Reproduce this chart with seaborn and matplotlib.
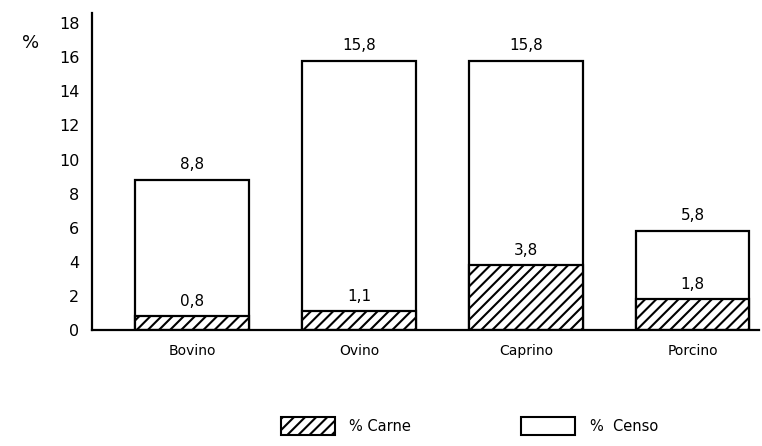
import matplotlib
matplotlib.use("Agg")
import matplotlib.pyplot as plt
import seaborn as sns
import pandas as pd
from matplotlib.patches import Patch

categorias = ["Bovino", "Ovino", "Caprino", "Porcino"]
censo = [8.8, 15.8, 15.8, 5.8]
carne = [0.8, 1.1, 3.8, 1.8]
yticks = [0, 2, 4, 6, 8, 10, 12, 14, 16, 18]

sns.set_theme(style="white")
plt.rcParams['font.family'] = ['DejaVu Sans']
plt.rcParams['hatch.linewidth'] = 1.5

df = pd.DataFrame({"cat": categorias, "censo": censo, "carne": carne})

fig = plt.figure(figsize=(7.62, 4.46), dpi=100)
ax = fig.add_axes([0.1207, 0.26, 0.876, 0.711])

sns.barplot(data=df, x="cat", y="censo", color="white", edgecolor="black",
            linewidth=1.6, width=0.68, ax=ax, saturation=1)
sns.barplot(data=df, x="cat", y="carne", color="white", edgecolor="black",
            linewidth=1.6, width=0.68, ax=ax, saturation=1, hatch="///")

for i, (c, m) in enumerate(zip(censo, carne)):
    ax.text(i, c + 0.45, f"{c:.1f}".replace(".", ","), ha="center", va="bottom",
            fontsize=11, color="black")
    ax.text(i, m + 0.45, f"{m:.1f}".replace(".", ","), ha="center", va="bottom",
            fontsize=11, color="black")

ax.set_xlim(-0.6, 3.4)
ax.set_ylim(0, 18.6)
ax.set_yticks(yticks)
ax.set_yticklabels([str(t) for t in yticks], fontsize=11.5)
ax.set_xlabel("")
ax.set_ylabel("")
ax.tick_params(axis="y", length=7, width=1.4, direction="out", pad=2, colors="black")
ax.tick_params(axis="x", length=0, pad=10, labelsize=10, colors="black")
for s in ["top", "right"]:
    ax.spines[s].set_visible(False)
for s in ["left", "bottom"]:
    ax.spines[s].set_color("black")
    ax.spines[s].set_linewidth(1.6)

fig.text(0.04, 0.903, "%", fontsize=13, ha="center", va="center", color="black")

handles = [Patch(facecolor="white", edgecolor="black", hatch="///", linewidth=1.5, label="% Carne"),
           Patch(facecolor="white", edgecolor="black", linewidth=1.5, label="%  Censo")]
fig.legend(handles=handles, ncol=2, loc="center", bbox_to_anchor=(0.616, 0.045),
           frameon=False, fontsize=10.5, handlelength=3.7, handleheight=1.5,
           columnspacing=7.56, handletextpad=1.0, labelcolor="black")

fig.savefig("out.png", dpi=100)
